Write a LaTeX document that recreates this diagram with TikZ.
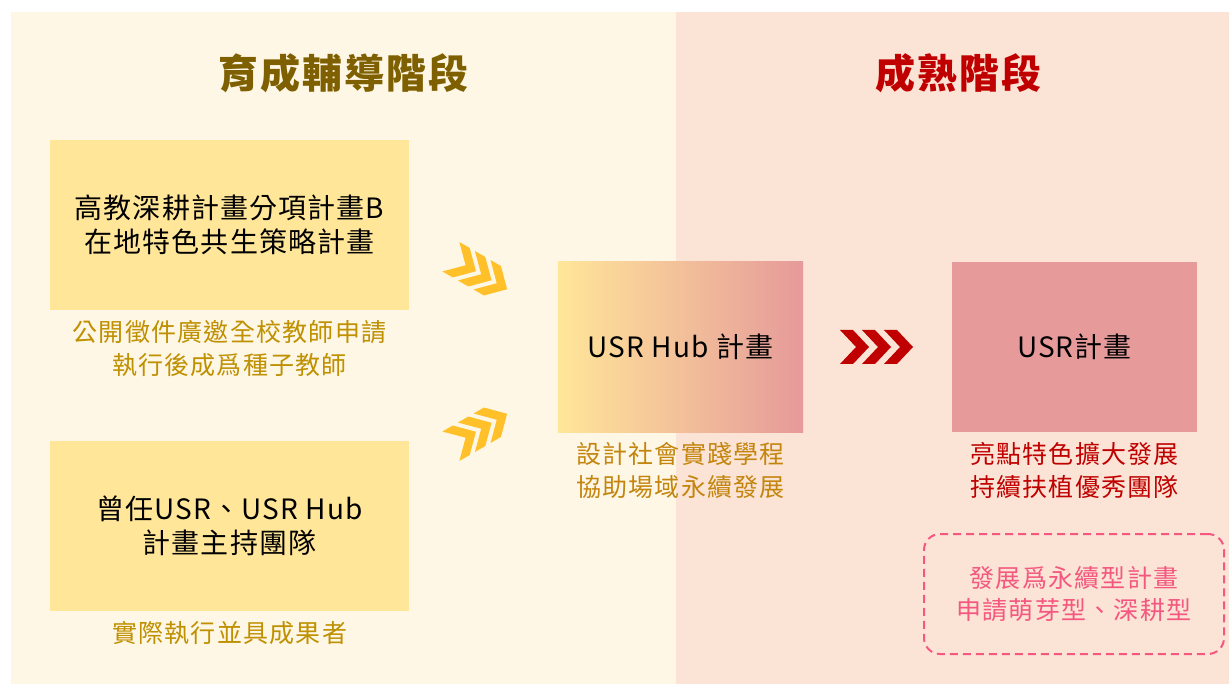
\documentclass[tikz,border=0pt]{standalone}
\usepackage{fontspec}
\setmainfont{Noto Sans CJK TC}
\usetikzlibrary{positioning}
\definecolor{bgleft}{HTML}{FFF7E6}
\definecolor{bgright}{HTML}{FBE4D5}
\definecolor{boxyellow}{HTML}{FFE699}
\definecolor{boxpink}{HTML}{E69A9A}
\definecolor{titleolive}{HTML}{7F6000}
\definecolor{titlered}{HTML}{C00000}
\definecolor{notegold}{HTML}{BF9000}
\definecolor{notehub}{HTML}{C4850E}
\definecolor{notepink}{HTML}{F4577F}
\definecolor{chevgold}{HTML}{FFC02A}
\tikzset{
    stagetitle/.style = {inner sep=0pt, font=\fontsize{40}{48}\selectfont\bfseries\addfontfeatures{LetterSpace=5}},
    planbox/.style = {rectangle, inner sep=0pt, align=center, minimum width=359pt, minimum height=170pt,
        fill=boxyellow, font=\fontsize{28}{34}\selectfont\addfontfeatures{LetterSpace=4}},
    hubbox/.style = {planbox, minimum width=245pt},
    note/.style = {inner sep=0pt, align=center, font=\fontsize{25}{33}\selectfont\addfontfeatures{LetterSpace=5}},
    futurebox/.style = {rectangle, rounded corners=16pt, draw=notepink, line width=2pt,
        dash pattern=on 8pt off 5pt, minimum width=300pt, minimum height=120pt,
        align=center, text=notepink, font=\fontsize{25}{32}\selectfont\addfontfeatures{LetterSpace=5}},
    chevgoldfill/.style = {fill=chevgold},
    chevredfill/.style = {fill=titlered}
}

\begin{document}
\begin{tikzpicture}[x=1pt,y=-1pt]
  \useasboundingbox (0,0) rectangle (1229,684);
  % background panels
  \fill[white] (0,0) rectangle (1229,684);
  \fill[bgleft] (11,12) rectangle (676,684);
  \fill[bgright] (676,12) rectangle (1229,684);

  % stage titles
  \node[stagetitle,text=titleolive] (titlegrow) at (343,73) {育成輔導階段};
  \node[stagetitle,text=titlered] (titlemature) at (958,73) {成熟階段};

  % incubation stage
  \node[planbox] (planB) at (229.5,225) {高教深耕計畫分項計畫B\\在地特色共生策略計畫};
  \node[note,text=notegold,below=10pt of planB] (planBnote) {公開徵件廣邀全校教師申請\\執行後成爲種子教師};
  \node[planbox] (veteran) at (229.5,526) {曾任USR、USR Hub\\計畫主持團隊};
  \node[note,text=notegold,below=10pt of veteran] (veterannote) {實際執行並具成果者};

  % hub
  \node[hubbox,left color=boxyellow,right color=boxpink] (hub) at (680.5,347) {USR Hub 計畫};
  \node[note,text=notehub,below=10pt of hub] (hubnote) {設計社會實踐學程\\協助場域永續發展};

  % mature stage
  \node[hubbox,fill=boxpink] (usr) at (1074.5,347) {USR計畫};
  \node[note,text=titlered,below=10pt of usr] (usrnote) {亮點特色擴大發展\\持續扶植優秀團隊};
  \node[futurebox] (future) at (1074,594) {發展爲永續型計畫\\申請萌芽型、深耕型};

  % chevrons
  \begin{scope}[shift={(479,273)},rotate=-30]
    \foreach \k in {0,1,2}
      \fill[chevgoldfill,shift={(18*\k-32.5,-17)}] (0,0) -- (12,0) -- (29,17) -- (12,34) -- (0,34) -- (17,17) -- cycle;
  \end{scope}
  \begin{scope}[shift={(479,430)},rotate=30]
    \foreach \k in {0,1,2}
      \fill[chevgoldfill,shift={(18*\k-32.5,-17)}] (0,0) -- (12,0) -- (29,17) -- (12,34) -- (0,34) -- (17,17) -- cycle;
  \end{scope}
  \foreach \k in {0,1,2}
    \fill[chevredfill,shift={(840+22*\k,330)}] (0,0) -- (13,0) -- (29,17) -- (13,34) -- (0,34) -- (16,17) -- cycle;
\end{tikzpicture}
\end{document}
